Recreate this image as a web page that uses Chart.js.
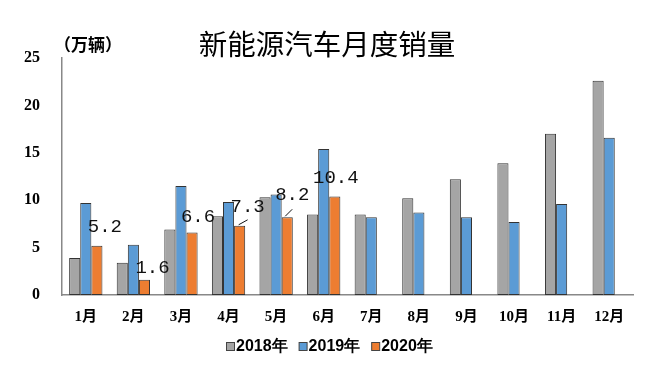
<!DOCTYPE html>
<html>
<head>
<meta charset="utf-8">
<script src="https://cdn.jsdelivr.net/npm/chart.js@4/dist/chart.umd.min.js"></script>
<style>
html,body{margin:0;padding:0;background:#fff;}
#wrap{width:658px;height:365px;position:relative;}
</style>
</head>
<body>
<div id="wrap"><canvas id="c" width="658" height="365"></canvas></div>
<script>
const months = ['1月','2月','3月','4月','5月','6月','7月','8月','9月','10月','11月','12月'];
const seriesNames = ['2018年','2019年','2020年'];
const sales2018 = [3.9, 3.4, 6.9, 8.3, 10.3, 8.5, 8.5, 10.2, 12.2, 13.9, 17.0, 22.6];
const sales2019 = [9.7, 5.3, 11.5, 9.8, 10.6, 15.4, 8.2, 8.7, 8.2, 7.7, 9.6, 16.6];
const sales2020 = [5.2, 1.6, 6.6, 7.3, 8.2, 10.4, null, null, null, null, null, null];
const yTicks = [0, 5, 10, 15, 20, 25];
const titleText = '新能源汽车月度销量';
const unitText = '（万辆）';

// label offsets relative to the top of each 2020 bar (dx, dy), and leader lines
const labelOffsets = [[8,-19],[8,-12],[6,-15],[8,-19],[5,-22],[1,-18]];
const leaderLines = [null,null,null,[[-1,-1],[8,-6]],[[-2,-1],[5,-8]],null];

const overlay = {
  id: 'overlay',
  afterDatasetsDraw(chart) {
    const ctx = chart.ctx;
    const meta = chart.getDatasetMeta(2);
    ctx.save();
    ctx.fillStyle = '#111';
    ctx.strokeStyle = '#111';
    ctx.lineWidth = 1;
    ctx.font = '19px "Liberation Mono", monospace';
    ctx.textAlign = 'center';
    ctx.textBaseline = 'middle';
    sales2020.forEach((v, i) => {
      if (v == null) return;
      const el = meta.data[i];
      const off = labelOffsets[i];
      ctx.fillText(v.toFixed(1), el.x + off[0], el.y + off[1]);
      const ll = leaderLines[i];
      if (ll) {
        ctx.beginPath();
        ctx.moveTo(el.x + ll[0][0], el.y + ll[0][1]);
        ctx.lineTo(el.x + ll[1][0], el.y + ll[1][1]);
        ctx.stroke();
      }
    });
    ctx.restore();
  },
  afterDraw(chart) {
    const ctx = chart.ctx;
    ctx.save();
    ctx.fillStyle = '#000';
    ctx.textBaseline = 'middle';
    ctx.textAlign = 'center';
    ctx.font = '28.5px "Noto Sans CJK SC", sans-serif';
    ctx.fillText(titleText, 327, 44);
    ctx.textAlign = 'left';
    ctx.font = 'bold 17px "Noto Sans CJK SC", sans-serif';
    ctx.fillText(unitText, 54, 45);

    // legend
    const box = 8, gapBox = 2, gapItem = 11, legendY = 346, legendCenter = 329;
    ctx.font = 'bold 16px "Liberation Sans", Arial, sans-serif';
    const items = chart.data.datasets.map(ds => ({
      text: ds.label, color: ds.backgroundColor, w: ctx.measureText(ds.label).width
    }));
    let total = 0;
    items.forEach((it, i) => { total += box + gapBox + it.w + (i < items.length - 1 ? gapItem : 0); });
    let x = Math.round(legendCenter - total / 2);
    items.forEach(it => {
      ctx.fillStyle = it.color;
      ctx.fillRect(x + 0.5, legendY - 4 + 0.5, box, box);
      ctx.strokeStyle = '#444';
      ctx.lineWidth = 1;
      ctx.strokeRect(x + 0.5, legendY - 4 + 0.5, box, box);
      ctx.fillStyle = '#000';
      ctx.textAlign = 'left';
      ctx.fillText(it.text, x + box + gapBox, legendY + 1);
      x += box + gapBox + it.w + gapItem;
    });
    ctx.restore();
  }
};

const commonBar = { borderColor: '#333', borderWidth: 1, borderSkipped: false };

new Chart(document.getElementById('c'), {
  type: 'bar',
  data: {
    labels: months,
    datasets: [
      Object.assign({ label: seriesNames[0], data: sales2018, backgroundColor: '#A5A5A5' }, commonBar),
      Object.assign({ label: seriesNames[1], data: sales2019, backgroundColor: '#5B9BD5' }, commonBar),
      Object.assign({ label: seriesNames[2], data: sales2020, backgroundColor: '#ED7D31' }, commonBar)
    ]
  },
  options: {
    responsive: false,
    animation: false,
    devicePixelRatio: 1,
    layout: { padding: { top: 58, left: 0, right: 25, bottom: 26 } },
    datasets: { bar: { categoryPercentage: 0.7, barPercentage: 1.0 } },
    plugins: {
      title: { display: false },
      tooltip: { enabled: false },
      legend: { display: false }
    },
    scales: {
      x: {
        grid: { display: false, drawTicks: false },
        border: { display: true, color: '#888', width: 1.5 },
        ticks: {
          color: '#000', padding: 13,
          font: { family: '"Liberation Serif", "Noto Sans CJK SC", serif', size: 15, weight: 'bold' }
        }
      },
      y: {
        min: 0, max: 25,
        afterBuildTicks(scale) { scale.ticks = yTicks.map(v => ({ value: v })); },
        afterFit(scale) { scale.width = 62; },
        grid: { display: false, drawTicks: false },
        border: { display: true, color: '#888', width: 1.5 },
        ticks: {
          color: '#000', padding: 22,
          font: { family: '"Liberation Serif", serif', size: 16, weight: 'bold' }
        }
      }
    }
  },
  plugins: [overlay]
});
</script>
</body>
</html>
